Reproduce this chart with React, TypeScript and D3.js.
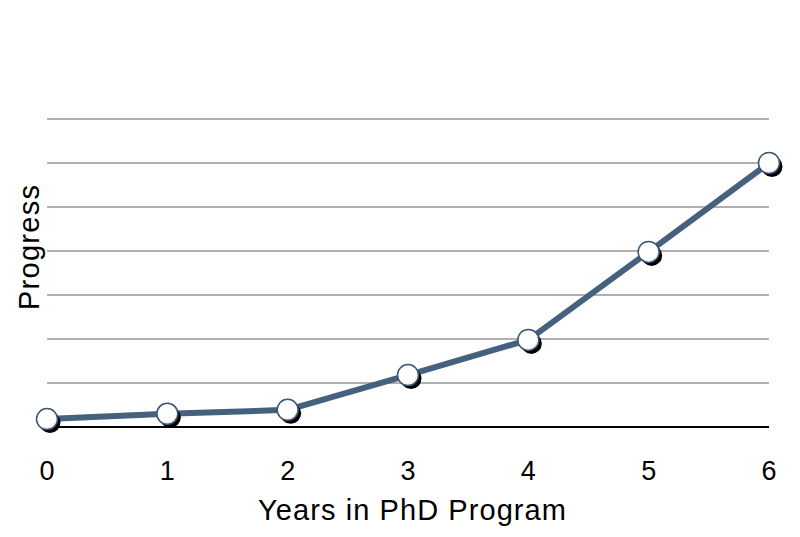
import React from "react";
import * as d3 from "d3";

const years = [0, 1, 2, 3, 4, 5, 6];
const progress = [0.18, 0.3, 0.39, 1.18, 1.98, 3.98, 6.0];
const gridValues = [1, 2, 3, 4, 5, 6, 7];
const xLabel = "Years in PhD Program";
const yLabel = "Progress";

export default function App() {
  const W = 800, H = 537;
  const x = d3.scaleLinear().domain([0, 6]).range([47, 769]);
  const y = d3.scaleLinear().domain([0, 7]).range([427, 119]);
  const line = d3.line<number>().x((_, i) => x(years[i])).y((d) => y(d));
  const font = "'Liberation Sans', Arial, Helvetica, sans-serif";
  return (
    <svg width={W} height={H} style={{ position: "absolute", left: 0, top: 0 }}>
      <defs>
        <radialGradient id="mk" cx="40%" cy="35%" r="70%">
          <stop offset="0%" stopColor="#ffffff" />
          <stop offset="70%" stopColor="#ffffff" />
          <stop offset="100%" stopColor="#dfe4ea" />
        </radialGradient>
      </defs>
      <rect width={W} height={H} fill="#fff" />
      {gridValues.map((g) => (
        <line key={g} x1={47} x2={769} y1={y(g)} y2={y(g)} stroke="#b0b0b0" strokeWidth={2} />
      ))}
      <line x1={45} x2={769} y1={y(0)} y2={y(0)} stroke="#000" strokeWidth={2} />
      <path d={line(progress) || ""} fill="none" stroke="#46617e" strokeWidth={6} strokeLinejoin="round" />
      {progress.map((v, i) => (
        <circle key={"s" + i} cx={x(years[i]) + 3} cy={y(v) + 3.5} r={10.5} fill="#000" />
      ))}
      {progress.map((v, i) => (
        <circle key={"c" + i} cx={x(years[i])} cy={y(v)} r={10.5} fill="url(#mk)" stroke="#3b5573" strokeWidth={1.5} />
      ))}
      {years.map((t) => (
        <text key={t} x={x(t)} y={480} textAnchor="middle" fontFamily={font} fontSize={27} fill="#000">
          {t}
        </text>
      ))}
      <text
        x={412}
        y={520}
        textAnchor="middle"
        fontFamily={font}
        fontSize={29}
        textLength={308}
        lengthAdjust="spacing"
        fill="#000"
      >
        {xLabel}
      </text>
      <text
        transform={`translate(39, ${(185 + 310) / 2}) rotate(-90)`}
        textAnchor="middle"
        fontFamily={font}
        fontSize={29}
        textLength={125}
        lengthAdjust="spacing"
        fill="#000"
      >
        {yLabel}
      </text>
    </svg>
  );
}
